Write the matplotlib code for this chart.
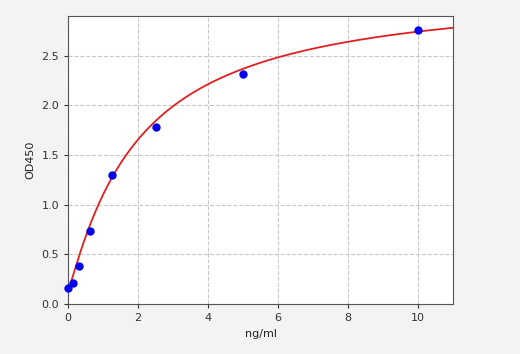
import matplotlib
matplotlib.use("Agg")
import matplotlib.pyplot as plt
import numpy as np

# standard points (concentration, OD450)
conc = [0.0, 0.156, 0.3125, 0.625, 1.25, 2.5, 5.0, 10.0]
od450 = [0.157, 0.21, 0.38, 0.74, 1.30, 1.78, 2.32, 2.76]

# four-parameter logistic fit shown in red (a=bottom, b=slope, c=mid, d=top)
fit_a, fit_b, fit_c, fit_d = 0.13, 1.1, 2.01, 3.19

fig = plt.figure(figsize=(5.2, 3.54), dpi=100, facecolor="#f3f3f3")
ax = fig.add_axes([0.1308, 0.1412, 0.7404, 0.8136])

xs = np.linspace(0, 11, 400)
curve = fit_d + (fit_a - fit_d) / (1 + (xs / fit_c) ** fit_b)
ax.plot(xs, curve, color="#e02020", linewidth=1.3, zorder=2)
ax.plot(conc, od450, "o", color="#0000ee", markersize=5, zorder=3, clip_on=False)

ax.set_xlim(0, 11)
ax.set_ylim(0, 2.9)
ax.set_xticks([0, 2, 4, 6, 8, 10])
ax.set_yticks([0.0, 0.5, 1.0, 1.5, 2.0, 2.5])
ax.set_yticklabels(["0.0", "0.5", "1.0", "1.5", "2.0", "2.5"])
ax.grid(True, linestyle="--", color="#c8c8c8", linewidth=0.8)
ax.set_axisbelow(True)
ax.tick_params(labelsize=8, length=3, colors="#333333")
for sp in ax.spines.values():
    sp.set_color("#555555")
ax.set_xlabel("ng/ml", fontsize=8, color="#222222")
ax.set_ylabel("OD450", fontsize=8, color="#222222")

fig.savefig("out.png", dpi=100, facecolor=fig.get_facecolor())
